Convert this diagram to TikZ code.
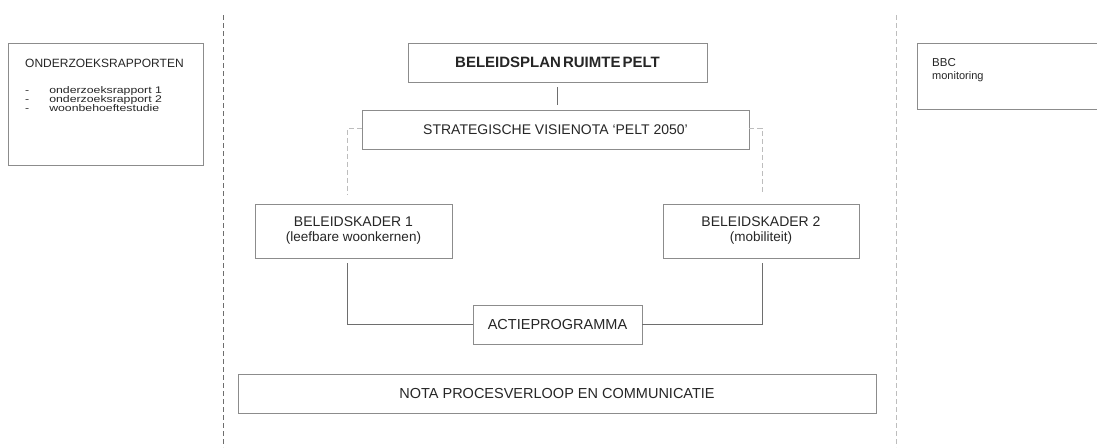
\documentclass[tikz,border=0pt]{standalone}
\usepackage{fontspec}
\setmainfont{Liberation Sans}
\newfontfamily\listfont[FakeStretch=1.28]{Liberation Sans}
\definecolor{txt}{HTML}{262626}
\definecolor{brd}{HTML}{8C8C8C}
\definecolor{lgray}{HTML}{BDBDBD}
\definecolor{dgray}{HTML}{6E6E6E}
\begin{document}
\begin{tikzpicture}[x=1pt,y=-1pt,
  box/.style={draw=brd,line width=0.9pt,inner sep=0pt,text=txt,align=center},
  solidcon/.style={draw=dgray,line width=0.8pt},
  dashcon/.style={draw=lgray,line width=0.8pt,dash pattern=on 5pt off 3pt},
  divider/.style={line width=0.9pt,dash pattern=on 5pt off 3pt},
  litem/.style={anchor=base west,inner sep=0pt,font=\listfont\fontsize{9.6}{10}\selectfont},
  every node/.style={text=txt}]
\useasboundingbox[fill=white] (0,0) rectangle (1097,447);
% dividers
\coordinate (d1t) at (223,15); \coordinate (d1b) at (223,447);
\coordinate (d2t) at (896,15); \coordinate (d2b) at (896,447);
\draw[divider,draw=dgray] (d1t) -- (d1b);
\draw[divider,draw=lgray] (d2t) -- (d2b);
% left box
\node[box,minimum width=195pt,minimum height=122pt] (onder) at (105.5,104) {};
\node[anchor=base west,font=\fontsize{12}{13}\selectfont,inner sep=0pt] (ontitle) at (25,67) {ONDERZOEKSRAPPORTEN};
\node[litem] (li1) at (25,93) {-\hspace{20pt}onderzoeksrapport 1};
\node[litem] (li2) at (25,102) {-\hspace{20pt}onderzoeksrapport 2};
\node[litem] (li3) at (25,111) {-\hspace{20pt}woonbehoeftestudie};
% right box
\node[box,minimum width=193pt,minimum height=66pt] (bbc) at (1013.5,76) {};
\node[anchor=base west,inner sep=0pt,font=\fontsize{11.5}{12}\selectfont] (bbc1) at (932,66) {BBC};
\node[anchor=base west,inner sep=0pt,font=\fontsize{11}{12}\selectfont] (bbc2) at (932,79) {monitoring};
% central boxes
\node[box,minimum width=299pt,minimum height=39pt,font=\bfseries\fontsize{15}{16}\selectfont] (plan) at (557.5,62.5) {BELEIDSPLAN\hspace{2pt}RUIMTE\hspace{2pt}PELT};
\node[box,minimum width=387pt,minimum height=39pt,font=\fontsize{14}{16}\selectfont] (visie) at (555.5,129.5) {STRATEGISCHE VISIENOTA ‘PELT 2050’};
\node[box,minimum width=197pt,minimum height=54pt,font=\fontsize{14}{15}\selectfont] (bk1) at (353.5,231) {BELEIDSKADER 1\\{\fontsize{13.5}{15}\selectfont (leefbare woonkernen)}};
\node[box,minimum width=196pt,minimum height=54pt,font=\fontsize{14}{15}\selectfont] (bk2) at (761,231) {BELEIDSKADER 2\\{\fontsize{13.5}{15}\selectfont (mobiliteit)}};
\node[box,minimum width=169pt,minimum height=39pt,font=\fontsize{14.5}{16}\selectfont] (actie) at (557.5,324.5) {ACTIEPROGRAMMA};
\node[box,minimum width=638pt,minimum height=39pt,font=\fontsize{14.5}{16}\selectfont] (nota) at (557,393.5) {NOTA PROCESVERLOOP EN COMMUNICATIE};
% connectors
\draw[solidcon,shorten <=5pt,shorten >=5pt] (plan.south) -- (plan.south |- visie.north);
\coordinate (v1) at ([xshift=-6pt,yshift=9pt]bk1.north);
\coordinate (v2) at ([xshift=1pt,yshift=9pt]bk2.north);
\draw[dashcon] ([yshift=1.5pt]visie.west) -| (v1);
\draw[dashcon] ([yshift=1.5pt]visie.east) -| (v2);
\coordinate (s1) at ([xshift=-6pt,yshift=-5pt]bk1.south);
\coordinate (s2) at ([xshift=1pt,yshift=-5pt]bk2.south);
\draw[solidcon] (s1) |- (actie.west);
\draw[solidcon] (s2) |- (actie.east);
\end{tikzpicture}
\end{document}
